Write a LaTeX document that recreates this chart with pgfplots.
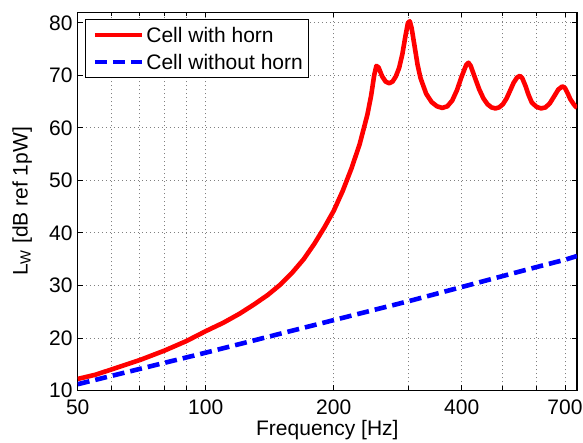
\documentclass[border=0pt]{standalone}
\usepackage{fontspec}
\setmainfont{Liberation Sans}
\usepackage{pgfplots}
\pgfplotsset{compat=1.18}
\begin{document}
\fontsize{21bp}{25bp}\selectfont
\begin{tikzpicture}
\begin{axis}[
  scale only axis, width=499bp, height=378bp,
  xmode=log, xmin=50, xmax=747, ymin=10, ymax=82,
  xtick={50,100,200,400,700}, xticklabels={50,100,200,400,700},
  minor xtick={60,70,80,90,300,500,600},
  ytick={10,20,30,40,50,60,70,80},
  grid=both,
  major grid style={gray, line width=0.9bp, dash pattern=on 1bp off 3bp},
  minor grid style={gray, line width=0.9bp, dash pattern=on 1bp off 3bp},
  tick align=inside, major tick length=5bp, minor tick length=4bp,
  every tick/.style={black, line width=0.9bp},
  axis line style={line width=1.3bp},
  /pgf/number format/assume math mode=true,
  tick label style={font=\fontsize{21bp}{25bp}\selectfont},
  label style={font=\fontsize{21bp}{25bp}\selectfont},
  xticklabel style={yshift=-2bp},
  yticklabel style={xshift=2bp},
  xlabel={Frequency [Hz]},
  ylabel={L\textsubscript{W} [dB ref 1pW]},
  xlabel style={yshift=9bp},
  ylabel style={yshift=3bp},
  legend cell align=left,
  legend style={at={(0.0146,0.9815)}, anchor=north west, draw=black, line width=1bp,
    font=\fontsize{21bp}{25bp}\selectfont, inner xsep=3bp, inner ysep=3bp, row sep=2bp,
    nodes={inner sep=2.5bp, text height=17bp, text depth=2.7bp}},
  legend image code/.code={\path (0bp,0bp); \draw[#1] plot coordinates {(4bp,0bp) (50.7bp,0bp)};},
]
\addplot[red, line width=4.6bp, line join=round] coordinates {
(50,12.2) (55,13.0) (60,14.0) (70,15.8) (80,17.6) (90,19.4) (100,21.3)
(110,22.9) (120,24.6) (130,26.4) (140,28.2) (150,30.2) (160,32.5) (170,35.0)
(180,37.9) (190,41.0) (200,44.2) (210,48.0) (220,52.2) (230,56.8) (240,62.5)
(245,66.2) (249,70.0) (252,71.8) (255,71.5) (260,69.8) (265,68.8) (270,68.5)
(275,68.8) (280,69.8) (285,71.4) (290,74.0) (295,77.5) (299,80.0) (302,80.3)
(305,79.0) (310,75.5) (315,72.0) (320,69.5) (330,66.5) (340,64.9) (350,64.1)
(360,63.8) (370,64.1) (380,65.2) (390,67.2) (400,69.8) (410,72.0) (415,72.4)
(420,71.8) (430,69.5) (440,67.3) (450,65.6) (460,64.5) (470,63.9) (480,63.7)
(490,63.9) (500,64.5) (510,65.6) (520,67.1) (530,68.6) (540,69.6) (548,69.9)
(555,69.5) (565,68.0) (575,66.2) (585,64.8) (600,64.0) (615,63.7) (630,63.9)
(645,64.7) (660,66.0) (675,67.3) (690,67.9) (700,67.6) (710,66.6) (720,65.5)
(735,64.4) (747,63.8)
};
\addlegendentry{Cell with horn}
\addplot[blue, line width=4.6bp, dash pattern=on 12bp off 6bp] coordinates {
(50,11.2) (100,17.2) (200,23.4) (300,27.0) (400,29.7) (500,31.8) (600,33.5)
(700,34.9) (747,35.6)
};
\addlegendentry{Cell without horn}
\end{axis}
\pgfresetboundingbox
\path ([xshift=-77.7bp,yshift=-52bp]current axis.south west) rectangle ([xshift=6bp,yshift=12.3bp]current axis.north east);
\end{tikzpicture}
\end{document}
